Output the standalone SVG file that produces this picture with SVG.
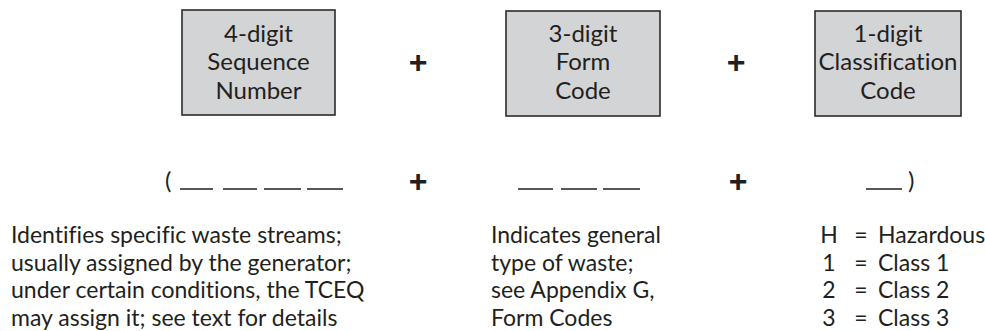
<svg xmlns="http://www.w3.org/2000/svg" width="985" height="331" viewBox="0 0 985 331">
<style>
.box{fill:#d3d4d6;stroke:#2b2b2b;stroke-width:1.6}
.t{font-family:Lato,"Liberation Sans",sans-serif;font-size:24px;fill:#231f20;font-variant-ligatures:none}
.d{font-size:23px}
.c{text-anchor:middle}
.plus{font-family:"Liberation Sans",Arial,sans-serif;font-weight:bold;font-size:32px;fill:#231f20;text-anchor:middle}
.blank{stroke:#231f20;stroke-width:1.5}
</style>
<rect width="985" height="331" fill="#fff"/>
<g id="node-sequence">
<rect class="box" x="182" y="10" width="153" height="105"/>
<text class="t c" x="258.5" y="42">4-digit</text>
<text class="t c" x="258.5" y="70">Sequence</text>
<text class="t c" x="258.5" y="99">Number</text>
</g>
<g id="node-form">
<rect class="box" x="506" y="11" width="154" height="105"/>
<text class="t c" x="583" y="42">3-digit</text>
<text class="t c" x="583" y="70">Form</text>
<text class="t c" x="583" y="99">Code</text>
</g>
<g id="node-class">
<rect class="box" x="815" y="11" width="146" height="105"/>
<text class="t c" x="888" y="42">1-digit</text>
<text class="t c" x="888" y="70">Classification</text>
<text class="t c" x="888" y="99">Code</text>
</g>
<g id="connectors">
<text class="plus" x="418" y="73">+</text>
<text class="plus" x="736" y="73">+</text>
<text class="plus" x="418" y="192">+</text>
<text class="plus" x="738" y="192">+</text>
</g>
<g id="blanks">
<text class="t" x="165" y="189">(</text>
<line class="blank" x1="180" y1="189" x2="213" y2="189"/>
<line class="blank" x1="223" y1="189" x2="257" y2="189"/>
<line class="blank" x1="264" y1="189" x2="301" y2="189"/>
<line class="blank" x1="307" y1="189" x2="343" y2="189"/>
<line class="blank" x1="518" y1="189" x2="553" y2="189"/>
<line class="blank" x1="561" y1="189" x2="597" y2="189"/>
<line class="blank" x1="603" y1="189" x2="640" y2="189"/>
<line class="blank" x1="866" y1="189" x2="902" y2="189"/>
<text class="t" x="908" y="189">)</text>
</g>
<g id="desc-sequence">
<text class="t d" x="11" y="243">Identifies specific waste streams;</text>
<text class="t d" x="11" y="271">usually assigned by the generator;</text>
<text class="t d" x="11" y="298">under certain conditions, the TCEQ</text>
<text class="t d" x="11" y="326">may assign it; see text for details</text>
</g>
<g id="desc-form">
<text class="t d" x="491" y="243">Indicates general</text>
<text class="t d" x="491" y="271">type of waste;</text>
<text class="t d" x="491" y="298">see Appendix G,</text>
<text class="t d" x="491" y="326">Form Codes</text>
</g>
<g id="desc-class">
<text class="t d c" x="829" y="243">H</text>
<text class="t d c" x="861" y="243">=</text>
<text class="t d" x="878" y="243">Hazardous</text>
<text class="t d c" x="829" y="271">1</text>
<text class="t d c" x="861" y="271">=</text>
<text class="t d" x="878" y="271">Class 1</text>
<text class="t d c" x="829" y="298">2</text>
<text class="t d c" x="861" y="298">=</text>
<text class="t d" x="878" y="298">Class 2</text>
<text class="t d c" x="829" y="326">3</text>
<text class="t d c" x="861" y="326">=</text>
<text class="t d" x="878" y="326">Class 3</text>
</g>
</svg>
